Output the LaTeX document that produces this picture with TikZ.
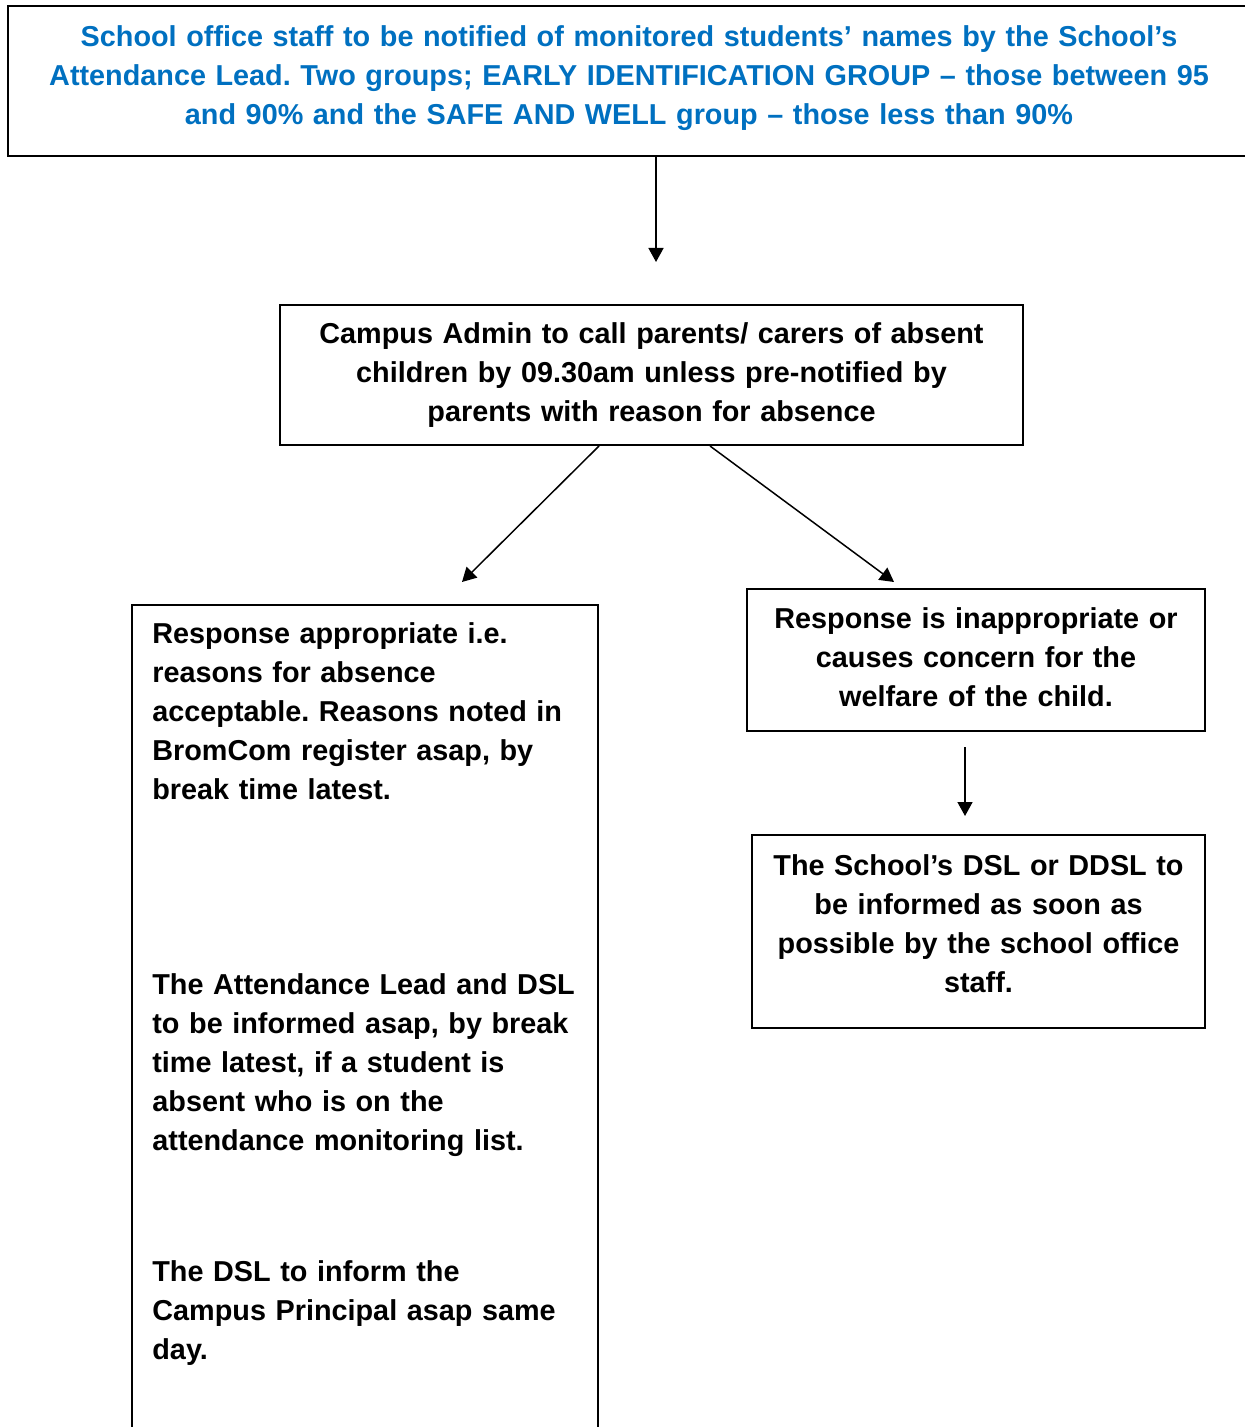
\documentclass[tikz,border=0pt]{standalone}
\usepackage{fontspec}
\setmainfont{Liberation Sans}
\usepackage{tikz}
\usetikzlibrary{arrows.meta}
\frenchspacing
\definecolor{fcblue}{HTML}{0070C0}
\newcommand{\fcdepth}[1]{\rule[-#1]{0pt}{#1}}% pousse le texte vers le haut
\tikzset{
  fc_node/.style = {align=center, inner sep=0pt, text centered,
    font=\fontsize{14.4}{19.5}\selectfont\bfseries},
  fc_box/.style = {fc_node, rectangle, draw=black, line width=1pt},% cadre noir
  fc_top/.style = {fc_box, text=fcblue},% cadre du haut, texte bleu
  fc_txt/.style = {fc_node, align=left, text width=235pt, anchor=north west}% texte libre
}

\begin{document}
\begin{tikzpicture}[x=0.5pt,y=-0.5pt,>={Triangle[length=7pt,width=7.5pt]},
    arr/.style={->, line width=0.75pt}]
    \useasboundingbox (0,0) rectangle (1245,1427);
    \clip (0,0) rectangle (1245,1427);
    % boites
    \node [fc_top, text width=610pt, minimum width=621pt, minimum height=75pt] (staff) at (629,81)
        {School office staff to be notified of monitored students’ names by the School’s\\
         Attendance Lead. Two groups; EARLY IDENTIFICATION GROUP – those between 95\\
         and 90\% and the SAFE AND WELL group – those less than 90\%\fcdepth{6pt}};
    \node [fc_box, text width=360pt, minimum width=371.5pt, minimum height=70pt] (admin) at (651.5,375)
        {Campus Admin to call parents/ carers of absent\\
         children by 09.30am unless pre-notified by\\
         parents with reason for absence};
    \node [fc_box, minimum width=233pt, minimum height=450pt, anchor=north west] (ok) at (131,604) {};
    \node [fc_txt] (okA) at (152,622)
        {Response appropriate i.e.\\ reasons for absence\\ acceptable. Reasons noted in\\
         BromCom register asap, by\\ break time latest.};
    \node [fc_txt] (okB) at (152,973)
        {The Attendance Lead and DSL\\ to be informed asap, by break\\ time latest, if a student is\\
         absent who is on the\\ attendance monitoring list.};
    \node [fc_txt] (okC) at (152,1260)
        {The DSL to inform the\\ Campus Principal asap same\\ day.};
    \node [fc_box, text width=220pt, minimum width=229pt, minimum height=71pt] (concern) at (976,660)
        {Response is inappropriate or\\ causes concern for the\\ welfare of the child.\fcdepth{3pt}};
    \node [fc_box, text width=220pt, minimum width=226.5pt, minimum height=96.5pt] (dsl) at (978.5,931.5)
        {The School’s DSL or DDSL to\\ be informed as soon as\\ possible by the school office\\ staff.\fcdepth{8pt}};
    % fleches
    \coordinate (c1) at (656,262);
    \coordinate (c2) at (462,582);
    \coordinate (c3) at (894,582);
    \draw [arr] (staff.south -| c1) -- (c1);
    \draw [arr] ([xshift=-26.25pt]admin.south) -- (c2);
    \draw [arr] ([xshift=29.25pt]admin.south) -- (c3);
    \draw [arr, shorten <=7.5pt, shorten >=9pt] ([xshift=-5.5pt]concern.south)
        -- ([xshift=-5.5pt]concern.south |- dsl.north);
\end{tikzpicture}
\end{document}
